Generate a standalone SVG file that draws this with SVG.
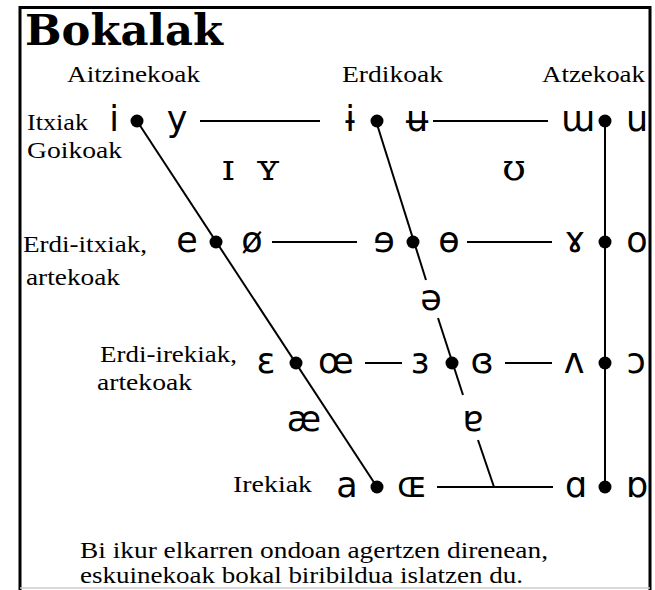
<svg xmlns="http://www.w3.org/2000/svg" width="655" height="590" viewBox="0 0 655 590">
<style>
.lbl{font-family:"Liberation Serif","DejaVu Serif",serif;font-size:24px;fill:#000}
.ipa{font-family:"DejaVu Sans","Noto Sans",sans-serif;font-size:35px;fill:#000;text-anchor:middle}
.ipas{font-family:"DejaVu Serif","Liberation Serif",serif;font-size:38px;fill:#000;text-anchor:middle}
.ln{stroke:#000;stroke-width:2;fill:none}
.dot{fill:#000}
</style>
<rect width="655" height="590" fill="#fff"/>
<path d="M20,590 V7.5 H650 V590" fill="none" stroke="#000" stroke-width="3"/>
<line x1="20" y1="588" x2="650" y2="588" stroke="#ccc" stroke-width="1.5"/>
<text x="25" y="45" font-family="'DejaVu Serif',serif" font-weight="bold" font-size="42" textLength="198" lengthAdjust="spacingAndGlyphs">Bokalak</text>

<g id="headers">
<text class="lbl" x="67" y="82" textLength="133" lengthAdjust="spacingAndGlyphs">Aitzinekoak</text>
<text class="lbl" x="342" y="82" textLength="101" lengthAdjust="spacingAndGlyphs">Erdikoak</text>
<text class="lbl" x="542" y="82" textLength="103" lengthAdjust="spacingAndGlyphs">Atzekoak</text>
</g>
<g id="rowlabels">
<text class="lbl" x="27" y="130" textLength="61" lengthAdjust="spacingAndGlyphs">Itxiak</text>
<text class="lbl" x="27" y="158" textLength="95" lengthAdjust="spacingAndGlyphs">Goikoak</text>
<text class="lbl" x="23" y="252" textLength="124" lengthAdjust="spacingAndGlyphs">Erdi-itxiak,</text>
<text class="lbl" x="26" y="285" textLength="94" lengthAdjust="spacingAndGlyphs">artekoak</text>
<text class="lbl" x="100" y="362" textLength="137" lengthAdjust="spacingAndGlyphs">Erdi-irekiak,</text>
<text class="lbl" x="97" y="390" textLength="95" lengthAdjust="spacingAndGlyphs">artekoak</text>
<text class="lbl" x="233" y="492" textLength="79" lengthAdjust="spacingAndGlyphs">Irekiak</text>
</g>

<g id="connectors">
<line class="ln" x1="200" y1="121" x2="320" y2="121"/>
<line class="ln" x1="433" y1="121" x2="548" y2="121"/>
<line class="ln" x1="272" y1="242" x2="357" y2="242"/>
<line class="ln" x1="467" y1="242" x2="552" y2="242"/>
<line class="ln" x1="365" y1="363" x2="402" y2="363"/>
<line class="ln" x1="505" y1="363" x2="552" y2="363"/>
<line class="ln" x1="437" y1="487" x2="553" y2="487"/>
<line class="ln" x1="137" y1="121" x2="377" y2="487"/>
<line class="ln" x1="376" y1="121" x2="426" y2="280"/>
<line class="ln" x1="438" y1="318" x2="463" y2="395"/>
<line class="ln" x1="478" y1="440" x2="494" y2="487"/>
<line class="ln" x1="605" y1="121" x2="605" y2="487"/>
</g>

<g id="dots">
<circle class="dot" cx="137" cy="121" r="6.5"/>
<circle class="dot" cx="377" cy="121" r="6.5"/>
<circle class="dot" cx="605" cy="121" r="6.5"/>
<circle class="dot" cx="216" cy="242" r="6.5"/>
<circle class="dot" cx="413" cy="242" r="6.5"/>
<circle class="dot" cx="605" cy="242" r="6.5"/>
<circle class="dot" cx="296" cy="363" r="6.5"/>
<circle class="dot" cx="452" cy="363" r="6.5"/>
<circle class="dot" cx="605" cy="363" r="6.5"/>
<circle class="dot" cx="377" cy="487" r="6.5"/>
<circle class="dot" cx="605" cy="487" r="6.5"/>
</g>

<g id="close">
<text class="ipa" x="114" y="131">i</text>
<text class="ipa" x="177" y="131">y</text>
<text class="ipa" x="350" y="131">ɨ</text>
<text class="ipa" x="417" y="131">ʉ</text>
<text class="ipa" x="578" y="131">ɯ</text>
<text class="ipa" x="637" y="131">u</text>
</g>
<g id="nearclose">
<text class="ipas" x="228" y="180">ɪ</text>
<text class="ipas" x="268" y="180">ʏ</text>
<text class="ipas" x="514" y="180">ʊ</text>
</g>
<g id="closemid">
<text class="ipa" x="187" y="252">e</text>
<text class="ipa" x="252" y="252">ø</text>
<text class="ipa" x="384" y="252">ɘ</text>
<text class="ipa" x="449" y="252">ɵ</text>
<text class="ipa" x="575" y="252">ɤ</text>
<text class="ipa" x="637" y="252">o</text>
</g>
<g id="mid">
<text class="ipa" x="431" y="310">ə</text>
</g>
<g id="openmid">
<text class="ipa" x="266" y="373">ɛ</text>
<text class="ipa" x="336" y="373">œ</text>
<text class="ipa" x="420" y="373">ɜ</text>
<text class="ipa" x="482" y="373">ɞ</text>
<text class="ipa" x="574" y="373">ʌ</text>
<text class="ipa" x="636" y="373">ɔ</text>
</g>
<g id="nearopen">
<text class="ipa" x="304" y="431">æ</text>
<text class="ipa" x="473" y="431">ɐ</text>
</g>
<g id="open">
<text class="ipa" x="347" y="497">a</text>
<text class="ipa" x="412" y="497">ɶ</text>
<text class="ipa" x="576" y="497">ɑ</text>
<text class="ipa" x="637" y="497">ɒ</text>
</g>

<g id="note">
<text class="lbl" x="80" y="558" font-size="20" textLength="468" lengthAdjust="spacingAndGlyphs">Bi ikur elkarren ondoan agertzen direnean,</text>
<text class="lbl" x="80" y="583" font-size="20" textLength="443" lengthAdjust="spacingAndGlyphs">eskuinekoak bokal biribildua islatzen du.</text>
</g>
</svg>
